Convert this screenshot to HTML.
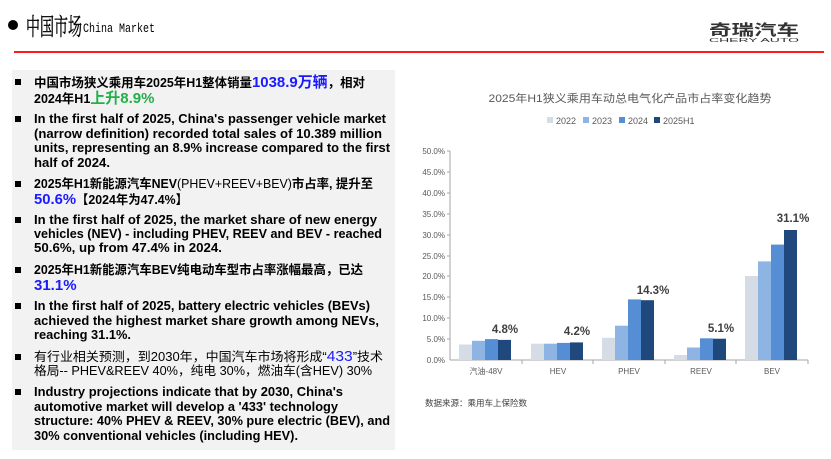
<!DOCTYPE html>
<html><head><meta charset="utf-8"><style>
html,body{margin:0;padding:0;background:#fff;}
svg{display:block;}
.t{font-family:"Liberation Sans","Noto Sans CJK SC",sans-serif;font-weight:bold;font-size:12.5px;fill:#000;}
.n{font-weight:normal;}
.b{fill:#1a1aff;font-size:15px;}
.g{fill:#22b04a;font-size:15px;}
.ax{font-family:"Liberation Sans","Noto Sans CJK SC",sans-serif;font-size:8px;fill:#595959;}
.lab{font-family:"Liberation Sans",sans-serif;font-weight:bold;font-size:11.5px;fill:#404040;}
</style></head><body>
<svg width="831" height="459" xmlns="http://www.w3.org/2000/svg">
<circle cx="13" cy="25" r="5" fill="#000"/>
<text x="26" y="35" font-family="'Noto Serif CJK SC',serif" font-size="24" fill="#000" stroke="#000" stroke-width="0.4" textLength="56" lengthAdjust="spacingAndGlyphs">中国市场</text>
<text x="83" y="32" font-family="Liberation Mono,monospace" font-size="12.5" fill="#000" textLength="72" lengthAdjust="spacingAndGlyphs">China Market</text>
<text x="709" y="35" font-family="'Noto Sans CJK SC',sans-serif" font-size="15" font-weight="bold" fill="#333" textLength="90" lengthAdjust="spacingAndGlyphs">奇瑞汽车</text>
<text x="709" y="42" font-family="Liberation Sans,sans-serif" font-size="5.5" fill="#333" textLength="90" lengthAdjust="spacingAndGlyphs">CHERY AUTO</text>
<rect x="14" y="51" width="810" height="2" fill="#ff1a1a"/>

<rect x="12" y="70" width="383" height="380" fill="#f2f2f2"/>
<g fill="#000">
<rect x="15" y="79" width="6" height="6"/><rect x="15" y="116" width="6" height="6"/>
<rect x="15" y="181" width="6" height="6"/><rect x="15" y="217" width="6" height="6"/>
<rect x="15" y="267" width="6" height="6"/><rect x="15" y="303" width="6" height="6"/>
<rect x="15" y="354" width="6" height="6"/><rect x="15" y="389" width="6" height="6"/>
</g>
<text class="t" x="34" y="87" textLength="331" lengthAdjust="spacingAndGlyphs">中国市场狭义乘用车2025年H1整体销量<tspan class="b">1038.9万辆</tspan>，相对</text>
<text class="t" x="34" y="103">2024年H1<tspan class="g">上升8.9%</tspan></text>
<text class="t" x="34" y="123" textLength="352" lengthAdjust="spacingAndGlyphs">In the first half of 2025, China's passenger vehicle market</text>
<text class="t" x="34" y="138" textLength="348" lengthAdjust="spacingAndGlyphs">(narrow definition) recorded total sales of 10.389 million</text>
<text class="t" x="34" y="152" textLength="356" lengthAdjust="spacingAndGlyphs">units, representing an 8.9% increase compared to the first</text>
<text class="t" x="34" y="167" textLength="76" lengthAdjust="spacingAndGlyphs">half of 2024.</text>
<text class="t" x="34" y="188" textLength="339" lengthAdjust="spacingAndGlyphs">2025年H1新能源汽车NEV<tspan class="n">(PHEV+REEV+BEV)</tspan>市占率, 提升至</text>
<text class="t" x="34" y="204" textLength="154" lengthAdjust="spacingAndGlyphs"><tspan class="b">50.6%</tspan>【2024年为47.4%】</text>
<text class="t" x="34" y="224" textLength="343" lengthAdjust="spacingAndGlyphs">In the first half of 2025, the market share of new energy</text>
<text class="t" x="34" y="238" textLength="348" lengthAdjust="spacingAndGlyphs">vehicles (NEV) - including PHEV, REEV and BEV - reached</text>
<text class="t" x="34" y="252" textLength="188" lengthAdjust="spacingAndGlyphs">50.6%, up from 47.4% in 2024.</text>
<text class="t" x="34" y="274" textLength="329" lengthAdjust="spacingAndGlyphs">2025年H1新能源汽车BEV纯电动车型市占率涨幅最高，已达</text>
<text class="t b" x="34" y="290">31.1%</text>
<text class="t" x="34" y="310" textLength="336" lengthAdjust="spacingAndGlyphs">In the first half of 2025, battery electric vehicles (BEVs)</text>
<text class="t" x="34" y="325" textLength="345" lengthAdjust="spacingAndGlyphs">achieved the highest market share growth among NEVs,</text>
<text class="t" x="34" y="339" textLength="97" lengthAdjust="spacingAndGlyphs">reaching 31.1%.</text>
<text class="t n" x="34" y="361" textLength="349" lengthAdjust="spacingAndGlyphs">有行业相关预测，到2030年，中国汽车市场将形成“<tspan class="b">433</tspan>”技术</text>
<text class="t n" x="34" y="375" textLength="338" lengthAdjust="spacingAndGlyphs">格局-- PHEV&amp;REEV 40%，纯电 30%，燃油车(含HEV) 30%</text>
<text class="t" x="34" y="396" textLength="309" lengthAdjust="spacingAndGlyphs">Industry projections indicate that by 2030, China's</text>
<text class="t" x="34" y="411" textLength="304" lengthAdjust="spacingAndGlyphs">automotive market will develop a '433' technology</text>
<text class="t" x="34" y="425" textLength="356" lengthAdjust="spacingAndGlyphs">structure: 40% PHEV &amp; REEV, 30% pure electric (BEV), and</text>
<text class="t" x="34" y="440" textLength="264" lengthAdjust="spacingAndGlyphs">30% conventional vehicles (including HEV).</text>

<text x="630" y="102" text-anchor="middle" font-family="Liberation Sans,'Noto Sans CJK SC',sans-serif" font-size="11" fill="#595959" textLength="283" lengthAdjust="spacingAndGlyphs">2025年H1狭义乘用车动总电气化产品市占率变化趋势</text>
<g font-family="Liberation Sans,sans-serif" font-size="9" fill="#595959">
<rect x="547" y="117" width="6" height="6" fill="#d6dce5"/><text x="556" y="124">2022</text>
<rect x="583" y="117" width="6" height="6" fill="#8eb4e3"/><text x="592" y="124">2023</text>
<rect x="619" y="117" width="6" height="6" fill="#558ed5"/><text x="628" y="124">2024</text>
<rect x="654" y="117" width="6" height="6" fill="#1f497d"/><text x="663" y="124">2025H1</text>
</g>
<g class="ax" text-anchor="end">
<text x="445" y="154">50.0%</text><text x="445" y="175">45.0%</text><text x="445" y="196">40.0%</text>
<text x="445" y="217">35.0%</text><text x="445" y="238">30.0%</text><text x="445" y="259">25.0%</text>
<text x="445" y="279">20.0%</text><text x="445" y="300">15.0%</text><text x="445" y="321">10.0%</text>
<text x="445" y="342">5.0%</text><text x="445" y="363">0.0%</text>
</g>
<g stroke="#a6a6a6" stroke-width="1">
<line x1="450" y1="151" x2="450" y2="360"/>
<line x1="450" y1="360" x2="808" y2="360"/>
<line x1="447" y1="151" x2="450" y2="151"/><line x1="447" y1="172" x2="450" y2="172"/>
<line x1="447" y1="193" x2="450" y2="193"/><line x1="447" y1="214" x2="450" y2="214"/>
<line x1="447" y1="235" x2="450" y2="235"/><line x1="447" y1="256" x2="450" y2="256"/>
<line x1="447" y1="276" x2="450" y2="276"/><line x1="447" y1="297" x2="450" y2="297"/>
<line x1="447" y1="318" x2="450" y2="318"/><line x1="447" y1="339" x2="450" y2="339"/>
<line x1="522" y1="360" x2="522" y2="364"/><line x1="593" y1="360" x2="593" y2="364"/>
<line x1="665" y1="360" x2="665" y2="364"/><line x1="736" y1="360" x2="736" y2="364"/>
<line x1="808" y1="360" x2="808" y2="364"/>
</g>
<g>
<rect x="459" y="344.5" width="13" height="15.5" fill="#d6dce5"/>
<rect x="472" y="340.8" width="13" height="19.2" fill="#8eb4e3"/>
<rect x="485" y="339.1" width="13" height="20.9" fill="#558ed5"/>
<rect x="498" y="339.9" width="13" height="20.1" fill="#1f497d"/>
<rect x="531" y="343.7" width="13" height="16.3" fill="#d6dce5"/>
<rect x="544" y="343.7" width="13" height="16.3" fill="#8eb4e3"/>
<rect x="557" y="342.9" width="13" height="17.1" fill="#558ed5"/>
<rect x="570" y="342.4" width="13" height="17.6" fill="#1f497d"/>
<rect x="602" y="337.8" width="13" height="22.2" fill="#d6dce5"/>
<rect x="615" y="325.7" width="13" height="34.3" fill="#8eb4e3"/>
<rect x="628" y="299.4" width="13" height="60.6" fill="#558ed5"/>
<rect x="641" y="300.2" width="13" height="59.8" fill="#1f497d"/>
<rect x="674" y="355" width="13" height="5" fill="#d6dce5"/>
<rect x="687" y="347.5" width="13" height="12.5" fill="#8eb4e3"/>
<rect x="700" y="338.3" width="13" height="21.7" fill="#558ed5"/>
<rect x="713" y="338.7" width="13" height="21.3" fill="#1f497d"/>
<rect x="745" y="276" width="13" height="84" fill="#d6dce5"/>
<rect x="758" y="261.4" width="13" height="98.6" fill="#8eb4e3"/>
<rect x="771" y="244.6" width="13" height="115.4" fill="#558ed5"/>
<rect x="784" y="230" width="13" height="130" fill="#1f497d"/>
</g>
<g class="lab" text-anchor="middle">
<text x="505" y="333">4.8%</text>
<text x="577" y="335">4.2%</text>
<text x="653" y="294">14.3%</text>
<text x="721" y="332">5.1%</text>
<text x="793" y="222">31.1%</text>
</g>
<g class="ax" text-anchor="middle" font-size="8.5">
<text x="486" y="374">汽油-48V</text>
<text x="558" y="374">HEV</text>
<text x="629" y="374">PHEV</text>
<text x="701" y="374">REEV</text>
<text x="772" y="374">BEV</text>
</g>
<text x="425" y="406" font-family="'Noto Sans CJK SC',sans-serif" font-size="8.5" fill="#404040">数据来源：乘用车上保险数</text>
</svg>
</body></html>
